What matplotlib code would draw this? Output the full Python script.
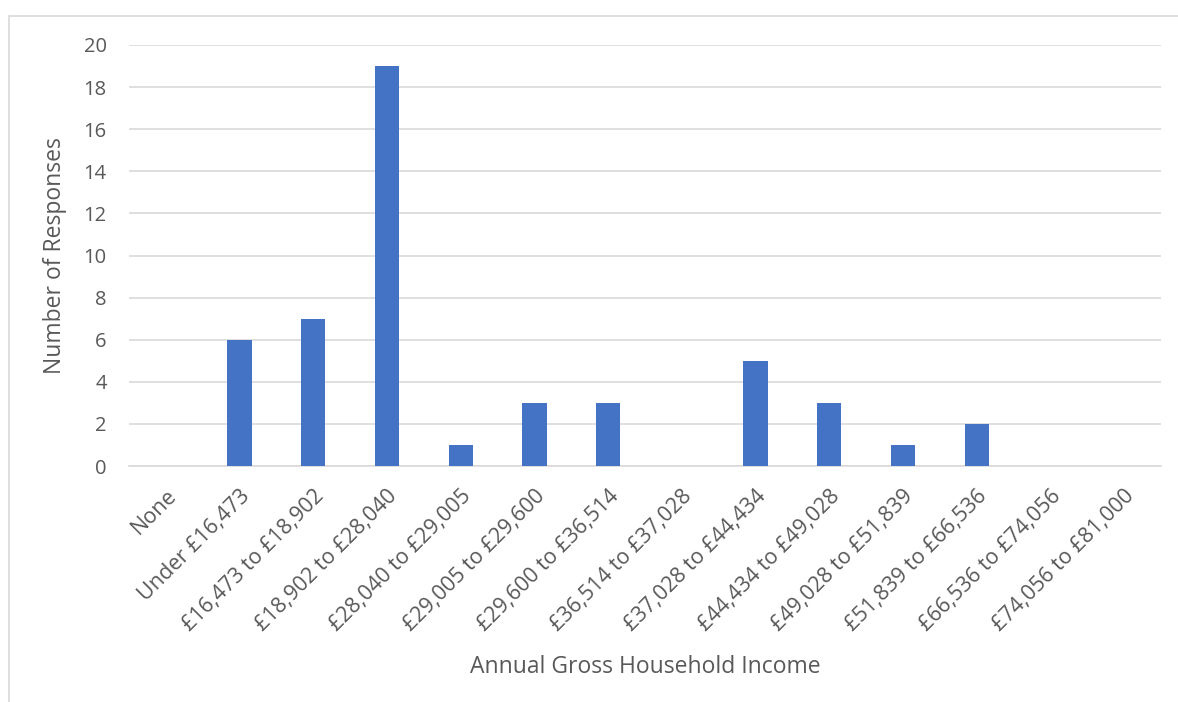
import matplotlib.pyplot as plt
from matplotlib.patches import Rectangle

# Income bands and number of responses in each
bands = ["None", "Under £16,473", "£16,473 to £18,902", "£18,902 to £28,040",
         "£28,040 to £29,005", "£29,005 to £29,600", "£29,600 to £36,514",
         "£36,514 to £37,028", "£37,028 to £44,434", "£44,434 to £49,028",
         "£49,028 to £51,839", "£51,839 to £66,536", "£66,536 to £74,056",
         "£74,056 to £81,000"]
responses = [0, 6, 7, 19, 1, 3, 3, 0, 5, 3, 1, 2, 0, 0]
y_ticks = list(range(0, 21, 2))

plt.rcParams['font.family'] = ['Open Sans', 'DejaVu Sans']
text_col = '#595959'

fig = plt.figure(figsize=(11.78, 7.02), dpi=100)
ax = fig.add_axes([129 / 1178, 1 - 466 / 702, (1161 - 129) / 1178, (466 - 45) / 702])

# chart border
fig.patches.append(Rectangle((8.5 / 1178, -0.1), 1.2, 1 - 15.5 / 702 + 0.1,
                             transform=fig.transFigure, fill=False,
                             edgecolor='#d9d9d9', linewidth=1.2))

x = range(len(bands))
ax.bar(x, responses, width=0.33, color='#4472c4', zorder=3)

ax.set_xlim(-0.5, len(bands) - 0.5)
ax.set_ylim(0, 20)
ax.set_yticks(y_ticks)
ax.yaxis.grid(True, color='#d9d9d9', linewidth=1.2, zorder=0)
for s in ['top', 'right', 'left']:
    ax.spines[s].set_visible(False)
ax.spines['bottom'].set_color('#d9d9d9')
ax.spines['bottom'].set_linewidth(1.2)
ax.tick_params(length=0, colors=text_col)
ax.tick_params(axis='y', pad=16, labelsize=14.5)
ax.tick_params(axis='x', pad=14)

ax.set_xticks(list(x))
ax.set_xticklabels(bands, rotation=45, ha='right', rotation_mode='anchor',
                   fontsize=15.5, color=text_col)

ax.set_xlabel("Annual Gross Household Income", fontsize=16.5, color=text_col, labelpad=14)
ax.set_ylabel("Number of Responses", fontsize=16.5, color=text_col, labelpad=12)

fig.savefig("out.png", dpi=100)
